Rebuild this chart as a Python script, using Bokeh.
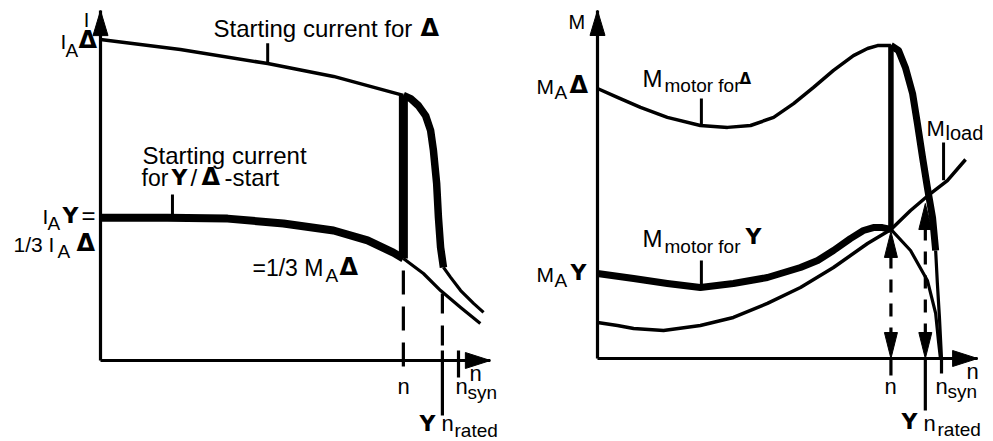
from bokeh.plotting import figure
from bokeh.layouts import row
from bokeh.models import Range1d, Label
from bokeh.embed import file_html
from bokeh.resources import INLINE

FONT = "Liberation Sans"
SYM_FONT = "DejaVu Sans"
INK = "black"

# ---------------- Left panel: current I over speed n ----------------
# n relative to synchronous speed, I relative to starting current in delta
n_I_delta = [0.0, 0.223, 0.467, 0.651, 0.846]
I_delta = [1.0, 0.969, 0.925, 0.885, 0.826]
n_I_delta_run = [0.846, 0.866, 0.888, 0.908, 0.922, 0.930, 0.939, 0.944, 0.950, 0.958]
I_delta_run = [0.826, 0.816, 0.794, 0.763, 0.717, 0.654, 0.551, 0.445, 0.352, 0.290]
n_I_delta_tail = [0.958, 0.978, 1.006, 1.042, 1.070]
I_delta_tail = [0.290, 0.259, 0.218, 0.178, 0.150]
n_I_star = [0.0, 0.187, 0.355, 0.511, 0.651, 0.746, 0.818, 0.846]
I_star = [0.445, 0.445, 0.442, 0.427, 0.405, 0.374, 0.336, 0.318]
n_I_star_tail = [0.846, 0.902, 0.950, 1.006, 1.061]
I_star_tail = [0.318, 0.271, 0.218, 0.165, 0.115]
n_switch_I = 0.846
n_rated_I = 0.955
n_syn = 1.0
I_axis_end = [1.089, 1.090]          # x-arrow tip, y-arrow tip
I_callouts_n = [0.467, 0.201]
I_callouts_lo = [0.925, 0.445]
I_callouts_hi = [0.988, 0.517]

# ---------------- Right panel: torque M over speed n ----------------
n_M_delta = [0.0, 0.058, 0.125, 0.203, 0.299, 0.378, 0.445, 0.512, 0.570, 0.628,
             0.686, 0.744, 0.785, 0.814, 0.853]
M_delta = [1.0, 0.967, 0.930, 0.893, 0.863, 0.856, 0.863, 0.893, 0.944, 1.004,
           1.067, 1.122, 1.148, 1.159, 1.159]
n_M_delta_run = [0.853, 0.875, 0.895, 0.916, 0.930, 0.945, 0.959, 0.974, 0.983]
M_delta_run = [1.159, 1.141, 1.078, 0.981, 0.870, 0.744, 0.633, 0.522, 0.400]
n_M_delta_tail = [0.983, 0.988, 0.994, 1.0]
M_delta_tail = [0.400, 0.278, 0.152, 0.0]
n_M_star = [0.0, 0.105, 0.203, 0.299, 0.395, 0.494, 0.590, 0.640, 0.686, 0.735,
            0.773, 0.802, 0.828, 0.853]
M_star = [0.315, 0.296, 0.278, 0.263, 0.278, 0.300, 0.337, 0.363, 0.400, 0.444,
          0.474, 0.485, 0.485, 0.478]
n_M_star_tail = [0.853, 0.910, 0.959, 0.983, 0.991, 0.997]
M_star_tail = [0.478, 0.400, 0.289, 0.167, 0.067, 0.0]
n_M_load = [0.0, 0.058, 0.105, 0.192, 0.299, 0.395, 0.494, 0.590, 0.686, 0.785,
            0.853, 0.910, 0.968, 1.017, 1.070]
M_load = [0.133, 0.122, 0.111, 0.104, 0.122, 0.152, 0.204, 0.263, 0.337, 0.426,
          0.478, 0.548, 0.611, 0.659, 0.737]
n_switch_M = 0.853
n_rated_M = 0.953
M_rated_point = 0.574
M_axis_end = [1.105, 1.289]
M_callouts_n = [0.302, 0.302, 1.006]
M_callouts_lo = [0.863, 0.263, 0.660]
M_callouts_hi = [0.963, 0.363, 0.800]

TOP = 0
HEIGHT = 440


class Panel:
    def __init__(self, width, img_left, origin, scale):
        ox, oy = origin
        sx, sy = scale
        self.ox, self.oy, self.sx, self.sy = ox, oy, sx, sy
        p = figure(width=width, height=HEIGHT,
                   x_range=Range1d((img_left - ox) / sx, (img_left + width - ox) / sx),
                   y_range=Range1d((oy - TOP - HEIGHT) / sy, (oy - TOP) / sy),
                   output_backend="svg", toolbar_location=None,
                   x_axis_location=None, y_axis_location=None, min_border=0)
        p.grid.visible = False
        p.outline_line_color = None
        p.background_fill_color = "white"
        p.border_fill_color = "white"
        self.p = p

    def conv(self, x, y):
        return (x - self.ox) / self.sx, (self.oy - y) / self.sy

    def head(self, tx, ty, direction, length=25, half=7.5):
        sx, sy = self.sx, self.sy
        if direction == "right":
            xs = [tx, tx - length / sx, tx - length / sx]
            ys = [ty, ty + half / sy, ty - half / sy]
        elif direction == "up":
            xs = [tx, tx - half / sx, tx + half / sx]
            ys = [ty, ty - length / sy, ty - length / sy]
        else:
            xs = [tx, tx - half / sx, tx + half / sx]
            ys = [ty, ty + length / sy, ty + length / sy]
        self.p.patch(xs, ys, fill_color=INK, line_color=INK, line_width=1)

    def axes(self, ends):
        self.p.line([0, ends[0]], [0, 0], line_color=INK, line_width=3.2)
        self.p.line([0, 0], [0, ends[1]], line_color=INK, line_width=3.2)
        self.head(ends[0], 0, "right", 25, 8)
        self.head(0, ends[1], "up", 25, 7.5)

    def txt(self, s, x, y, size, bold=False, align="left"):
        # y is the intended baseline in picture pixels; compensate renderer offset
        dx, dy = self.conv(x, y - 0.3 * size)
        font = SYM_FONT if bold else FONT
        self.p.add_layout(Label(x=dx, y=dy, text=s, text_font=font,
                                text_font_size=f"{size}px",
                                text_font_style="bold" if bold else "normal",
                                text_align=align, text_baseline="alphabetic",
                                text_color=INK))


# ======================= LEFT =======================
L = Panel(500, 0, (100, 360), (358, 321))
pl = L.p
L.axes(I_axis_end)
sy = L.sy

pl.line(n_I_delta, I_delta, line_color=INK, line_width=3.5, line_join="round")
pl.line(n_I_delta_run, I_delta_run, line_color=INK, line_width=7.5, line_join="round")
pl.line(n_I_delta_tail, I_delta_tail, line_color=INK, line_width=3.2, line_join="round")
pl.line(n_I_star, I_star, line_color=INK, line_width=8, line_join="round")
pl.line(n_I_star_tail, I_star_tail, line_color=INK, line_width=3.2, line_join="round")
pl.line([n_switch_I, n_switch_I], [I_delta[-1], I_star[-1]], line_color=INK, line_width=9)
for n, lo, hi in zip(I_callouts_n, I_callouts_lo, I_callouts_hi):
    pl.line([n, n], [lo, hi], line_color=INK, line_width=3)

# dashed drop lines
pl.line([n_switch_I, n_switch_I], [I_star[-1] - 12 / sy, -17 / sy],
        line_color=INK, line_width=3.2, line_dash="24 12")
pl.line([n_rated_I, n_rated_I], [I_star_tail[2] - 3 / sy, 10 / sy],
        line_color=INK, line_width=3.2, line_dash="20 12")
pl.line([n_rated_I, n_rated_I], [10 / sy, -55 / sy], line_color=INK, line_width=3.2)
pl.line([n_syn, n_syn], [10 / sy, -17 / sy], line_color=INK, line_width=3.2)

L.txt("I", 86, 25, 20, align="center")
L.txt("I", 60, 47, 21)
L.txt("A", 65, 56, 19)
L.txt("Δ", 78, 47, 24, bold=True)
L.txt("Starting current for", 213, 35, 24)
L.txt("Δ", 420, 35, 24, bold=True)
L.txt("Starting current", 142, 162, 24)
L.txt("for", 141, 184, 23)
L.txt("Y", 171, 184, 22, bold=True)
L.txt("/", 190, 184, 24)
L.txt("Δ", 201, 184, 24, bold=True)
L.txt("-start", 224, 184, 24)
L.txt("I", 42, 222, 21)
L.txt("A", 47, 229, 19)
L.txt("Y", 62, 222, 22, bold=True)
L.txt("=", 81, 222, 24)
L.txt("1/3 I", 13, 250, 21)
L.txt("A", 57, 257, 19)
L.txt("Δ", 76, 250, 24, bold=True)
L.txt("=1/3 M", 252, 274, 23)
L.txt("A", 325, 281, 19)
L.txt("Δ", 339, 274, 24, bold=True)
L.txt("n", 403, 393, 22, align="center")
L.txt("n", 475, 380, 22, align="center")
L.txt("n", 455, 393, 22)
L.txt("syn", 467, 398, 19)
L.txt("Y", 419, 430, 22, bold=True)
L.txt("n", 441, 430, 22)
L.txt("rated", 454, 436, 19)

# ======================= RIGHT =======================
R = Panel(493, 500, (597, 358), (344, 270))
pr = R.p
R.axes(M_axis_end)
sy = R.sy

pr.line(n_M_delta, M_delta, line_color=INK, line_width=3.5, line_join="round")
pr.line(n_M_delta_run, M_delta_run, line_color=INK, line_width=7, line_join="round")
pr.line(n_M_delta_tail, M_delta_tail, line_color=INK, line_width=3.2, line_join="round")
pr.line(n_M_star, M_star, line_color=INK, line_width=7, line_join="round")
pr.line(n_M_star_tail, M_star_tail, line_color=INK, line_width=3.2, line_join="round")
pr.line(n_M_load, M_load, line_color=INK, line_width=3.5, line_join="round")
pr.line([n_switch_M, n_switch_M], [M_delta[-1], M_star[-1]], line_color=INK, line_width=5.5)
for n, lo, hi in zip(M_callouts_n, M_callouts_lo, M_callouts_hi):
    pr.line([n, n], [lo, hi], line_color=INK, line_width=3)

# operating-point arrows (dashed, double headed)
for n, top in [(n_switch_M, M_star[-1] - 2 / sy), (n_rated_M, M_rated_point)]:
    pr.line([n, n], [top - 24 / sy, 24 / sy], line_color=INK, line_width=3.2,
            line_dash="13 11")
    R.head(n, top, "up", 26, 6.5)
    R.head(n, 0, "down", 26, 6.5)
pr.line([n_switch_M, n_switch_M], [0, -17 / sy], line_color=INK, line_width=3.2)
pr.line([n_rated_M, n_rated_M], [0, -52 / sy], line_color=INK, line_width=3.2)
pr.line([n_syn, n_syn], [0, -15 / sy], line_color=INK, line_width=3.2)

R.txt("M", 568, 27, 20)
R.txt("M", 536, 92, 21)
R.txt("A", 554, 98, 19)
R.txt("Δ", 569, 92, 24, bold=True)
R.txt("M", 642, 85, 24)
R.txt("motor for", 664, 91, 19)
R.txt("Δ", 739, 83, 15, bold=True)
R.txt("M", 642, 245, 24)
R.txt("motor for", 664, 252, 19)
R.txt("Y", 745, 243, 22, bold=True)
R.txt("M", 926, 135, 22)
R.txt("load", 945, 138, 20)
R.txt("M", 536, 280, 21)
R.txt("A", 554, 286, 19)
R.txt("Y", 570, 279, 22, bold=True)
R.txt("n", 890, 393, 22, align="center")
R.txt("n", 972, 378, 22, align="center")
R.txt("n", 935, 393, 22)
R.txt("syn", 947, 397, 19)
R.txt("Y", 901, 428, 22, bold=True)
R.txt("n", 923, 430, 22)
R.txt("rated", 937, 435, 19)

layout = row(pl, pr)
open("out.html", "w").write(file_html(layout, INLINE))
